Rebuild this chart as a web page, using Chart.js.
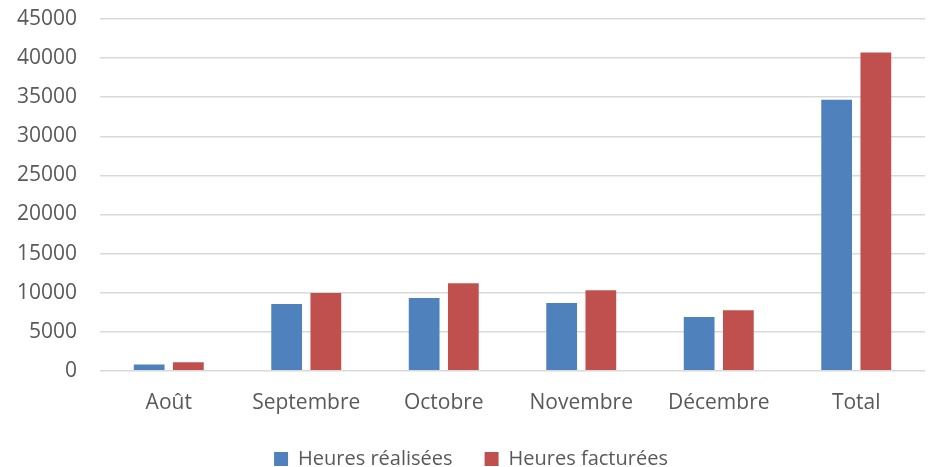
<!DOCTYPE html>
<html lang="fr">
<head>
  <meta charset="UTF-8">
  <title>Heures réalisées et facturées</title>
  <script src="https://cdn.jsdelivr.net/npm/chart.js"></script>
  <style>
    html, body {
      margin: 0;
      padding: 0;
      background: #fff;
    }
    .wrap {
      width: 930px;
      height: 467px;
    }
  </style>
</head>
<body>
  <div class="wrap">
    <canvas id="graphique"></canvas>
  </div>

  <script>
    const mois = ['Août', 'Septembre', 'Octobre', 'Novembre', 'Décembre', 'Total'];
    const heuresRealisees = [800, 8550, 9320, 8680, 6870, 34660];
    const heuresFacturees = [1100, 9950, 11190, 10300, 7760, 40720];

    const police = "'Open Sans', sans-serif";
    const gris = '#595959';

    const ctx = document.getElementById('graphique').getContext('2d');
    new Chart(ctx, {
      type: 'bar',
      data: {
        labels: mois,
        datasets: [
          {
            label: 'Heures réalisées',
            data: heuresRealisees,
            backgroundColor: '#4F81BD',
            categoryPercentage: 0.57,
            barPercentage: 0.785
          },
          {
            label: 'Heures facturées',
            data: heuresFacturees,
            backgroundColor: '#C0504D',
            categoryPercentage: 0.57,
            barPercentage: 0.785
          }
        ]
      },
      options: {
        responsive: true,
        maintainAspectRatio: false,
        animation: false,
        layout: {
          padding: { top: 19, right: 5, left: 17, bottom: -12 }
        },
        scales: {
          x: {
            afterFit: (scale) => { scale.height -= 11; },
            grid: { display: false },
            border: { display: false },
            ticks: {
              color: gris,
              padding: 12,
              font: { family: police, size: 21 }
            }
          },
          y: {
            min: 0,
            max: 45000,
            afterFit: (scale) => { scale.width = 83; },
            grid: {
              color: '#d9d9d9',
              lineWidth: 1.5,
              drawTicks: true,
              tickLength: 23,
              tickColor: 'rgba(0,0,0,0)'
            },
            border: { display: false },
            ticks: {
              stepSize: 5000,
              color: gris,
              padding: 0,
              font: { family: police, size: 21 },
              callback: (v) => String(v)
            }
          }
        },
        plugins: {
          legend: {
            position: 'bottom',
            labels: {
              color: gris,
              boxWidth: 14,
              boxHeight: 14,
              padding: 32,
              font: { family: police, size: 20 }
            }
          },
          tooltip: { enabled: false }
        }
      }
    });
  </script>
</body>
</html>
